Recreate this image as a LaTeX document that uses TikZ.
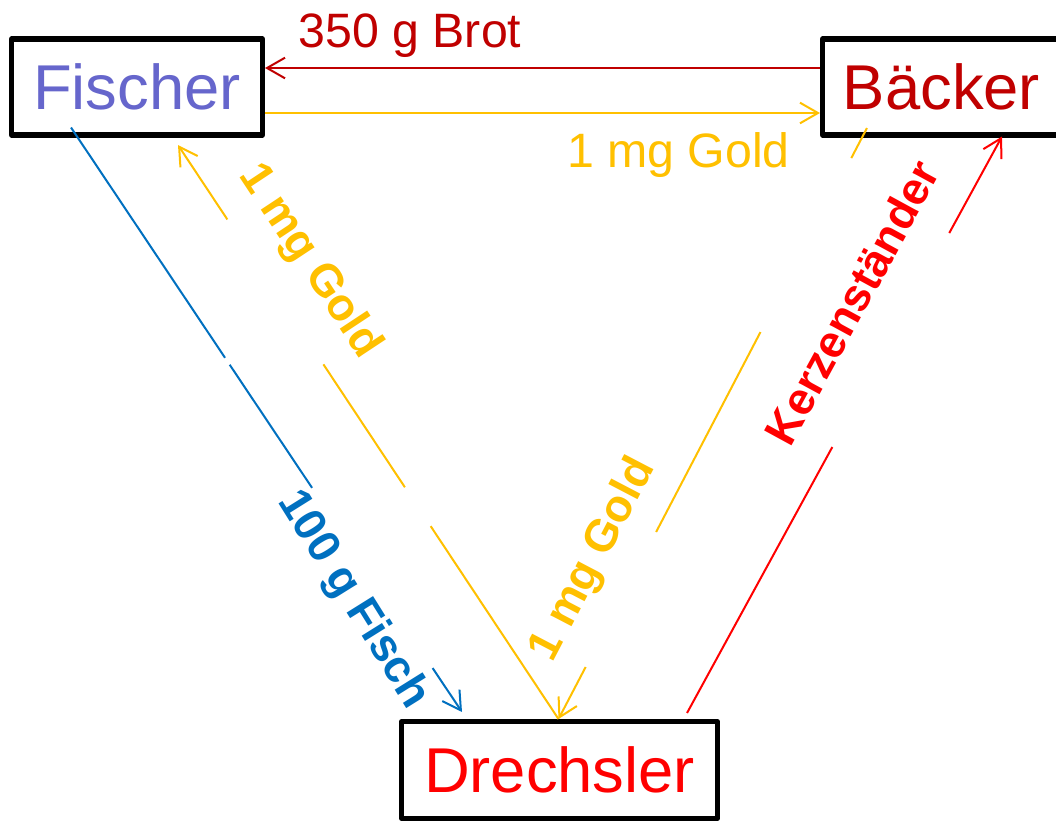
\documentclass[tikz,border=0pt]{standalone}
\usepackage{fontspec}
\setmainfont{Liberation Sans}
\usetikzlibrary{calc,arrows.meta}
\newdimen\pxu \pxu=0.75pt
\definecolor{cfis}{HTML}{6666CC}
\definecolor{cdred}{HTML}{C00000}
\definecolor{cgold}{HTML}{FFC000}
\definecolor{cblue}{HTML}{0070C0}
\definecolor{cred}{HTML}{FF0000}
\begin{document}
\begin{tikzpicture}[x=0.75pt,y=-0.75pt,
  box/.style={draw=black,line width=4pt,line join=round,inner sep=0pt,
    font=\fontsize{47.5}{56}\selectfont},
  conn/.style={line width=1.5pt,-{Straight Barb[length=13.5pt,width=15.5pt]}},
  toplbl/.style={anchor=base,inner sep=0pt,font=\fontsize{36.2}{42}\selectfont},
  rotlbl/.style={anchor=base,inner sep=0pt,font=\fontsize{34}{40}\selectfont\bfseries}]
\clip[use as bounding box] (0,0) rectangle (1056,822);
\fill[white] (0,0) rectangle (1056,822);

% boxes
\node[box,minimum width=250.7\pxu,minimum height=95.7\pxu,text=cfis] (fis) at (137,87) {Fischer};
\node[box,minimum width=237.7\pxu,minimum height=95.7\pxu,text=cdred] (bak) at (941.5,87) {Bäcker};
\node[box,minimum width=315.7\pxu,minimum height=96.7\pxu,text=cred] (dre) at (559.5,770) {Drechsler};

% horizontal connectors
\draw[conn,cdred] (bak.west |- 0,68) -- (fis.east |- 0,68);
\draw[conn,cgold] (fis.east |- 0,113) -- (bak.west |- 0,113);

% Fischer -> Drechsler (blue)
\draw[conn,cblue,dash pattern=on 207.75pt off 6.3pt on 111.1pt off 162.6pt on 200pt]
  ($(fis.south)+(-66,-10)$) -- ($(dre.north)+(-97.5,-7)$);
% Drechsler -> Fischer (gold)
\draw[conn,cgold,dash pattern=on 173.5pt off 35pt on 110.6pt off 130.4pt on 200pt]
  ($(dre.north)+(-1,0)$) -- ($(fis.south)+(41,7.5)$);
% Baecker -> Drechsler (gold)
\draw[conn,cgold,dash pattern=on 25.4pt off 147.2pt on 169.2pt off 114.2pt on 200pt]
  ($(bak.south west)+(47,-9.5)$) -- ($(dre.north)+(-1,0)$);
% Drechsler -> Baecker (red)
\draw[conn,cred,dash pattern=on 227.3pt off 182.9pt on 200pt]
  ($(dre.north east)+(-33,-6)$) -- ($(bak.south west)+(182,-1)$);

% labels
\node[toplbl,text=cdred] (lbrot) at (410,47) {350 g Brot};
\node[toplbl,text=cgold] (lgold1) at (678.5,167) {1 mg Gold};
\node[rotlbl,text=cgold,rotate=-56.5] (lgold2) at (300,268) {1 mg Gold};
\node[rotlbl,text=cblue,rotate=-58] (lfisch) at (343,606) {100 g Fisch};
\node[rotlbl,text=cgold,rotate=62.4] (lgold3) at (604,565) {1 mg Gold};
\node[rotlbl,text=cred,rotate=61.4] (lkerz) at (866,310) {Kerzenständer};
\end{tikzpicture}
\end{document}
